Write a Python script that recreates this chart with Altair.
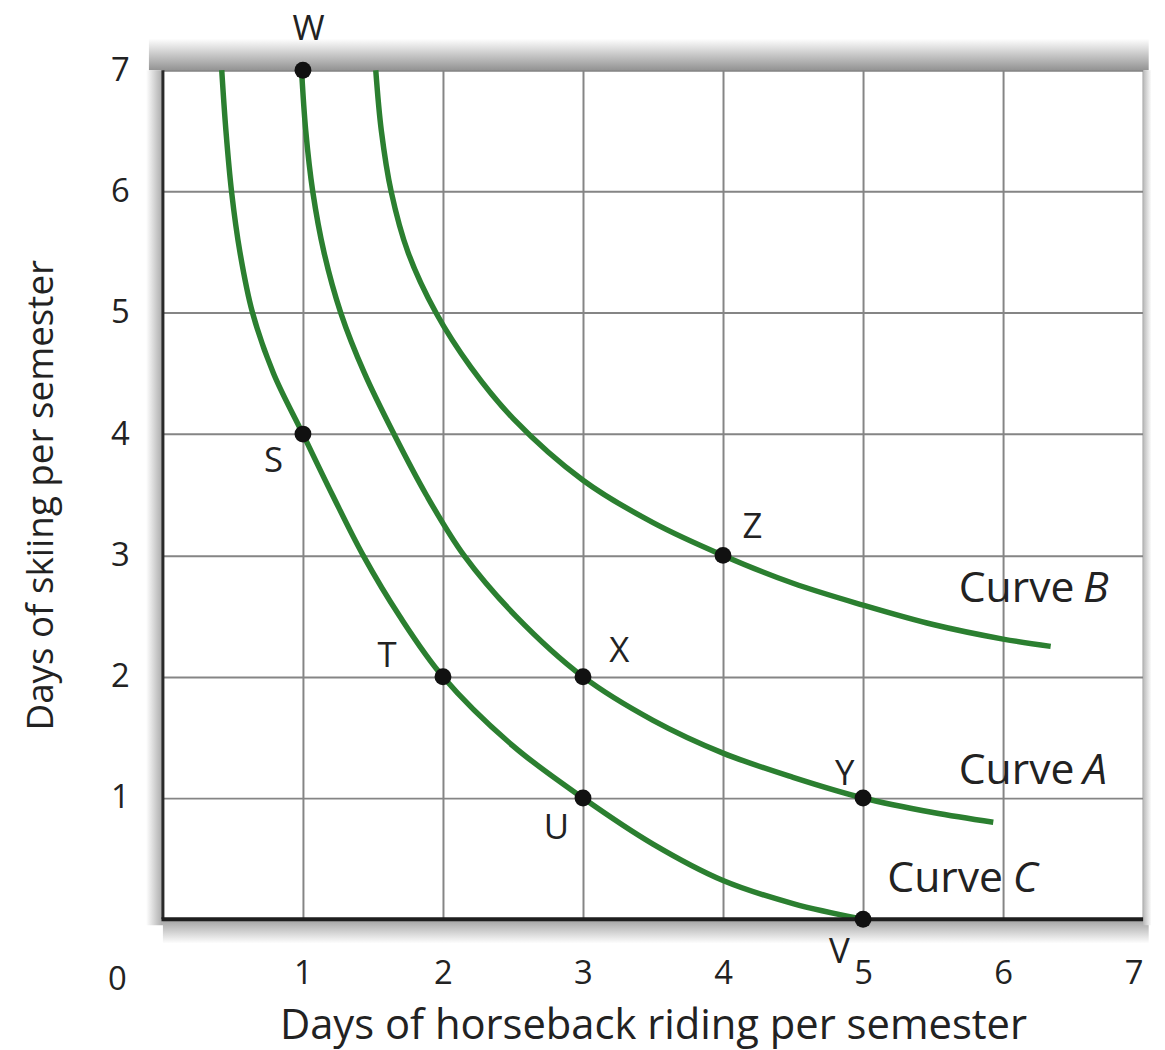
import altair as alt
import pandas as pd

# ---- data ----
curve_a_x = [0.99, 1.02, 1.07, 1.15, 1.27, 1.44, 1.65, 1.88, 2.15, 2.52, 3.0, 3.5, 4.0, 4.5, 5.0, 5.5, 5.93]
curve_a_y = [7.0, 6.5, 6.0, 5.5, 5.0, 4.5, 4.0, 3.5, 3.0, 2.5, 2.0, 1.64, 1.37, 1.17, 1.0, 0.88, 0.80]

curve_b_x = [1.52, 1.56, 1.63, 1.75, 1.95, 2.2, 2.5, 3.0, 3.5, 4.0, 4.5, 5.0, 5.5, 6.0, 6.34]
curve_b_y = [7.0, 6.5, 6.0, 5.5, 5.0, 4.55, 4.13, 3.62, 3.27, 3.0, 2.77, 2.59, 2.43, 2.31, 2.25]

curve_c_x = [0.42, 0.45, 0.49, 0.55, 0.64, 0.79, 1.0, 1.21, 1.43, 1.69, 2.0, 2.5, 3.0, 3.5, 4.0, 4.5, 5.0]
curve_c_y = [7.0, 6.5, 6.0, 5.5, 5.0, 4.5, 4.0, 3.5, 3.0, 2.5, 2.0, 1.43, 1.0, 0.62, 0.32, 0.13, 0.0]

point_names = ["W", "S", "T", "X", "U", "Z", "Y", "V"]
point_x = [1, 1, 2, 3, 3, 4, 5, 5]
point_y = [7, 4, 2, 2, 1, 3, 1, 0]
point_label_x = [1.04, 0.79, 1.60, 3.26, 2.81, 4.21, 4.87, 4.83]
point_label_y = [7.34, 3.78, 2.17, 2.21, 0.75, 3.23, 1.20, -0.27]

curve_word = ["Curve", "Curve", "Curve"]
curve_letter = ["B", "A", "C"]
curve_word_x = [6.51, 6.51, 6.0]
curve_letter_x = [6.57, 6.57, 6.07]
curve_label_y = [2.72, 1.22, 0.33]

tick_values = [1, 2, 3, 4, 5, 6, 7]
origin_label = ["0"]
origin_x = [-0.326]
origin_y = [-0.50]

x_title = "Days of horseback riding per semester"
y_title = "Days of skiing per semester"

FONT = "Open Sans"
GREEN = "#2b7f30"
INK = "#222222"

# ---- tables ----
curves = pd.concat([
    pd.DataFrame({"curve": "A", "order": range(len(curve_a_x)), "x": curve_a_x, "y": curve_a_y}),
    pd.DataFrame({"curve": "B", "order": range(len(curve_b_x)), "x": curve_b_x, "y": curve_b_y}),
    pd.DataFrame({"curve": "C", "order": range(len(curve_c_x)), "x": curve_c_x, "y": curve_c_y}),
])
points = pd.DataFrame({"name": point_names, "x": point_x, "y": point_y,
                       "lx": point_label_x, "ly": point_label_y})
clabels = pd.DataFrame({"word": curve_word, "letter": curve_letter, "wx": curve_word_x,
                        "lx": curve_letter_x, "y": curve_label_y})
origin = pd.DataFrame({"t": origin_label, "x": origin_x, "y": origin_y})
one = pd.DataFrame({"d": [0]})

xs = alt.Scale(domain=[0, 7], nice=False, zero=False)
ys = alt.Scale(domain=[0, 7], nice=False, zero=False)

x_axis = alt.Axis(values=tick_values, format="d", grid=True, gridColor="#858585", gridWidth=2,
                  domain=False, ticks=False, labelFont=FONT, labelFontSize=33,
                  labelColor=INK, labelPadding=39, title=x_title,
                  titleFont=FONT, titleFontSize=42, titleFontWeight="normal",
                  titleColor=INK, titlePadding=15)
y_axis = alt.Axis(values=tick_values, format="d", grid=True, gridColor="#858585", gridWidth=2,
                  domain=False, ticks=False, labelFont=FONT, labelFontSize=33,
                  labelColor=INK, labelPadding=34, title=y_title,
                  titleFont=FONT, titleFontSize=37,
                  titleFontWeight="normal", titleColor=INK, titlePadding=50)

def grad(x1, y1, x2, y2, c0, c1):
    return alt.LinearGradient(gradient="linear",
                              stops=[alt.GradientStop(color=c0, offset=0),
                                     alt.GradientStop(color=c1, offset=1)],
                              x1=x1, y1=y1, x2=x2, y2=y2)

base1 = alt.Chart(one)

frame = base1.mark_point(opacity=0).encode(
    x=alt.X("d:Q", scale=xs, axis=x_axis),
    y=alt.Y("d:Q", scale=ys, axis=y_axis),
)

top_shadow = base1.mark_rect(color=grad(0, 0, 0, 1, "#ffffff", "#939393")).encode(
    x=alt.datum(-0.1), x2=alt.datum(7.04), y=alt.datum(7.0), y2=alt.datum(7.26))
left_shadow = base1.mark_rect(color=grad(0, 0, 1, 0, "#ffffff", "#a8a8a8")).encode(
    x=alt.datum(-0.12), x2=alt.datum(0.0), y=alt.datum(-0.05), y2=alt.datum(7.0))
bottom_shadow = base1.mark_rect(color=grad(0, 0, 0, 1, "#a0a0a0", "#ffffff")).encode(
    x=alt.datum(0.0), x2=alt.datum(7.04), y=alt.datum(-0.2), y2=alt.datum(0.0))
right_shadow = base1.mark_rect(color=grad(0, 0, 1, 0, "#b8b8b8", "#ffffff")).encode(
    x=alt.datum(7.0), x2=alt.datum(7.06), y=alt.datum(-0.05), y2=alt.datum(7.0))

left_line = base1.mark_rule(color="#2a2a2a", strokeWidth=3).encode(
    x=alt.datum(0.0), y=alt.datum(0.0), y2=alt.datum(7.0))
bottom_line = base1.mark_rule(color="#1e1e1e", strokeWidth=4).encode(
    y=alt.datum(0.0), x=alt.datum(-0.01), x2=alt.datum(7.0))

lines = alt.Chart(curves).mark_line(color=GREEN, strokeWidth=5.5,
                                    interpolate="catmull-rom").encode(
    x="x:Q", y="y:Q", detail="curve:N", order="order:Q")

dots = alt.Chart(points).mark_circle(color="#111111", opacity=1, size=290).encode(
    x="x:Q", y="y:Q")

dot_labels = alt.Chart(points).mark_text(font=FONT, fontSize=35, color=INK,
                                         align="center", baseline="middle").encode(
    x="lx:Q", y="ly:Q", text="name:N")

word_labels = alt.Chart(clabels).mark_text(font=FONT, fontSize=43, color=INK,
                                           align="right", baseline="middle").encode(
    x="wx:Q", y="y:Q", text="word:N")
letter_labels = alt.Chart(clabels).mark_text(font=FONT, fontSize=43, color=INK,
                                             fontStyle="italic", align="left",
                                             baseline="middle").encode(
    x="lx:Q", y="y:Q", text="letter:N")

origin_text = alt.Chart(origin).mark_text(font=FONT, fontSize=33, color=INK,
                                          align="center", baseline="middle").encode(
    x="x:Q", y="y:Q", text="t:N")

chart = alt.layer(
    top_shadow, left_shadow, bottom_shadow, right_shadow, frame,
    lines, left_line, bottom_line, dots, dot_labels, word_labels, letter_labels,
    origin_text,
).properties(
    width=987, height=855,
    autosize=alt.AutoSizeParams(type="none"),
    padding={"left": 156, "top": 59, "right": 14, "bottom": 128},
).configure_view(stroke=None, fill="#fdfdfd").configure(background="white")

chart.save("out.html", embed_options={"renderer": "svg", "actions": False})
